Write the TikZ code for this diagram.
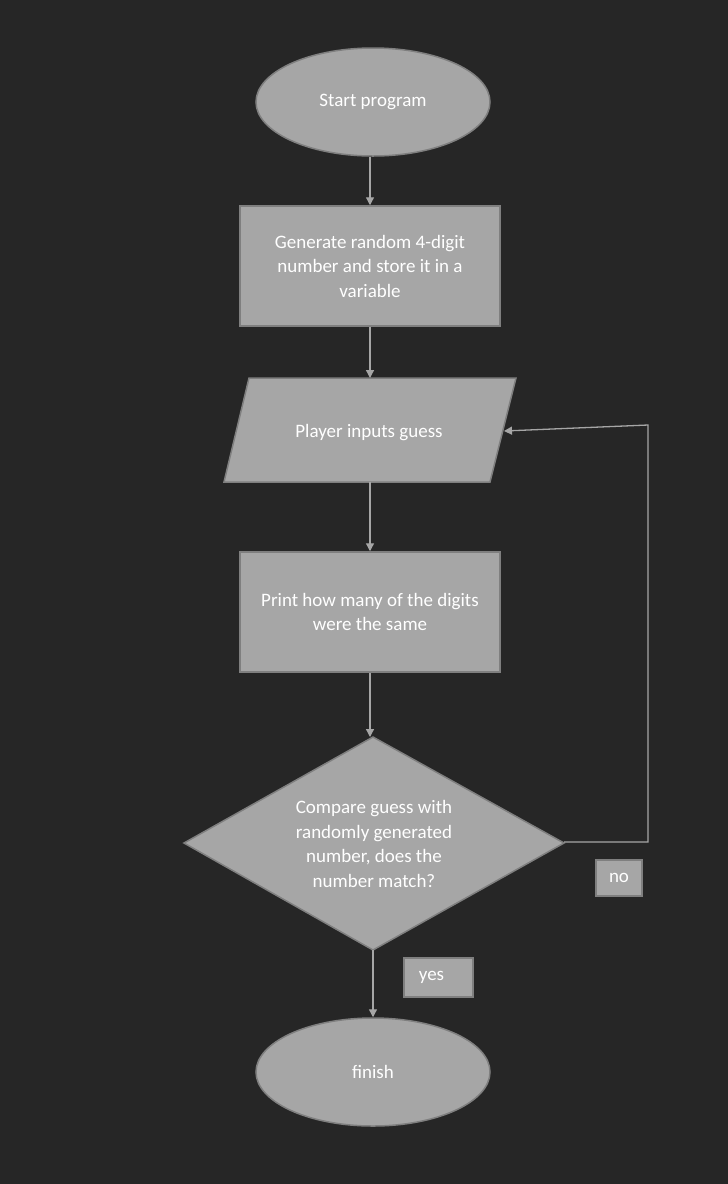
\documentclass[tikz,border=0pt]{standalone}
\usepackage{fontspec}
\setmainfont{Carlito}
\usetikzlibrary{shapes.geometric,arrows.meta}
\definecolor{bg}{HTML}{262626}
\definecolor{boxfill}{HTML}{A6A6A6}
\definecolor{boxline}{HTML}{7F7F7F}
\definecolor{conn}{HTML}{A6A6A6}
\tikzset{
  x=1pt,y=-1pt,
  txt/.style={text=white,font=\fontsize{19}{24.5}\selectfont,align=center,inner sep=0pt},
  shapebase/.style={fill=boxfill,draw=boxline,line width=1.5pt,txt},
  term/.style={shapebase,ellipse,minimum width=234pt,minimum height=108pt},
  proc/.style={shapebase,rectangle,minimum width=260pt,minimum height=120pt},
  tag/.style={shapebase,rectangle,minimum height=36pt,line width=2pt},
  conn/.style={draw=conn,line width=1.3pt,-{Triangle[length=8pt,width=8pt]}}
}
\begin{document}
\begin{tikzpicture}
\useasboundingbox[fill=bg] (0,0) rectangle (728,1184);
\node[term] (start) at (373,102) {Start program};
\node[proc] (gen) at (370,266) {Generate random 4-digit\\number and store it in a\\variable};
\path[shapebase] (249,378) -- (516,378) -- (490,482) -- (224,482) -- cycle;
\node[txt] (inp) at (369,433) {Player inputs guess};
\coordinate (inptop) at (370,378);
\coordinate (inpbot) at (370,482);
\coordinate (inpright) at (504,431);
\node[proc] (print) at (370,612) {Print how many of the digits\\were the same};
\path[shapebase] (373,737) -- (564,843) -- (373,950) -- (184,843) -- cycle;
\node[txt] (cmp) at (374,844) {Compare guess with\\randomly generated\\number, does the\\number match?};
\coordinate (cmptop) at (373,737);
\coordinate (cmpright) at (564,842);
\coordinate (cmpbot) at (373,950);
\node[term] (fin) at (373,1072) {finish};
\node[tag,minimum width=46pt] (no) at (619,878) {no};
\node[tag,minimum width=69pt,minimum height=39pt] (yes) at (438.5,977.5) {\hspace*{-14pt}yes};
\coordinate (c1) at (648,842);
\coordinate (c2) at (648,425);
\draw[conn] (start.south -| gen.north) -- (gen.north);
\draw[conn] (gen.south) -- (inptop);
\draw[conn] (inpbot) -- (print.north);
\draw[conn] (print.south) -- (print.south |- cmptop);
\draw[conn] (cmpbot) -- (fin.north);
\draw[conn] (cmpright) -- (c1) -- (c2) -- (inpright);
\end{tikzpicture}
\end{document}
